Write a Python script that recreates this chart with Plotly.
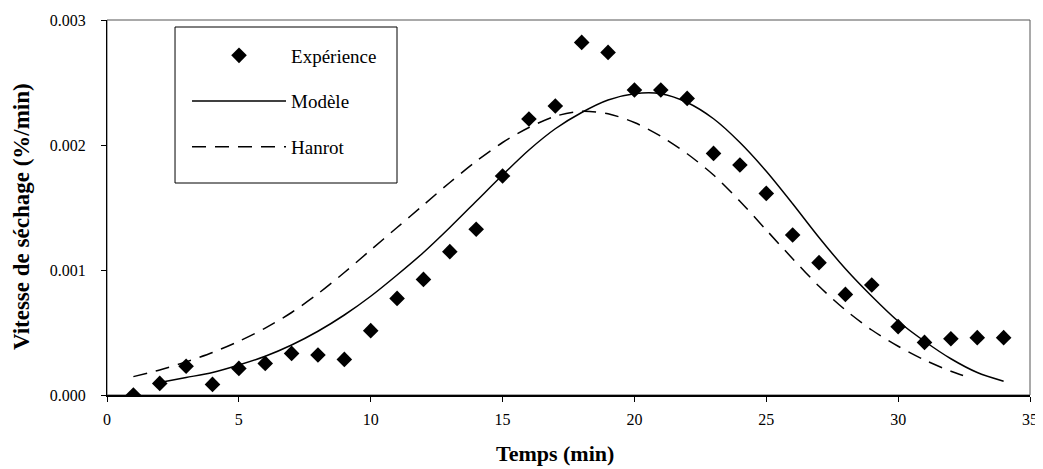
import plotly.graph_objects as go

# ---- data ----
temps_exp = list(range(1, 35))
experience = [0.0, 0.000093, 0.00023, 0.000085, 0.000213, 0.000253, 0.000333, 0.00032,
              0.000285, 0.000515, 0.000773, 0.000925, 0.001147, 0.001326, 0.001752,
              0.002208, 0.002312, 0.002821, 0.002741, 0.00244, 0.00244, 0.002373,
              0.001933, 0.00184, 0.001613, 0.00128, 0.001059, 0.000805, 0.00088,
              0.000547, 0.000421, 0.00045, 0.000459, 0.000459]

temps_modele = list(range(2, 35))
modele = [0.0001, 0.00014, 0.00018, 0.00024, 0.00031, 0.0004, 0.00051, 0.00064,
          0.00079, 0.00096, 0.00114, 0.00134, 0.00155, 0.00176, 0.00196, 0.00213,
          0.00226, 0.00236, 0.00241, 0.00241, 0.00234, 0.00221, 0.00202, 0.00179,
          0.00153, 0.00126, 0.00101, 0.00079, 0.00059, 0.00043, 0.00029,
          0.00018, 0.00011]

temps_hanrot = list(range(1, 33)) + [32.7]
hanrot = [0.000147, 0.0002, 0.000265, 0.00034, 0.00043, 0.000535, 0.00066, 0.00081,
          0.00098, 0.00116, 0.00134, 0.00152, 0.0017, 0.00187, 0.00202, 0.00214,
          0.00223, 0.00227, 0.00225, 0.00218, 0.00207, 0.00193, 0.00176, 0.00155,
          0.00132, 0.00109, 0.00087, 0.00068, 0.00052, 0.00039, 0.00028,
          0.00019, 0.00014]

x_ticks = [0, 5, 10, 15, 20, 25, 30, 35]
y_ticks = [0.0, 0.001, 0.002, 0.003]
y_labels = ["0.000", "0.001", "0.002", "0.003"]

x_title = "Temps (min)"
y_title = "Vitesse de séchage (%/min)"

FONT = "Liberation Serif"

fig = go.Figure()
fig.add_trace(go.Scatter(
    x=temps_exp, y=experience, mode="markers", name="Expérience",
    marker=dict(symbol="diamond", size=12, color="black"),
    legendgroup="a"))
fig.add_trace(go.Scatter(
    x=temps_modele, y=modele, mode="lines", name="Modèle",
    line=dict(color="black", width=1.5, shape="spline", smoothing=0.8),
    legendgroup="b"))
fig.add_trace(go.Scatter(
    x=temps_hanrot, y=hanrot, mode="lines", name="Hanrot",
    line=dict(color="black", width=1.5, dash="14px,9px", shape="spline", smoothing=0.8),
    legendgroup="c"))

# the page body has an 8px margin, so the figure is sized/offset to compensate
fig.update_layout(
    width=1035, height=461,
    margin=dict(l=99, r=13, t=12, b=74),
    paper_bgcolor="white", plot_bgcolor="white",
    font=dict(family=FONT, color="black", size=16),
    showlegend=True,
    legend=dict(
        x=0.0867, y=0.956, xanchor="left", yanchor="top",
        borderwidth=0, bgcolor="rgba(0,0,0,0)",
        font=dict(family=FONT, size=19, color="black"),
        itemwidth=94, tracegroupgap=18, traceorder="grouped",
    ),
    xaxis=dict(
        range=[0, 35], tickvals=x_ticks, ticks="outside", ticklen=5,
        tickcolor="black", showline=True, linecolor="black", linewidth=2,
        showgrid=False, zeroline=False, automargin=False, ticklabelstandoff=4,
        ticklabeloverflow="allow",
        tickfont=dict(family=FONT, size=16),
    ),
    yaxis=dict(
        range=[0, 0.003], tickvals=y_ticks, ticktext=y_labels, ticks="outside",
        ticklen=5, tickcolor="black", showline=True, linecolor="black", linewidth=1,
        showgrid=False, zeroline=False, automargin=False, ticklabelstandoff=12,
        tickfont=dict(family=FONT, size=16),
    ),
    annotations=[
        dict(text="<b>" + x_title + "</b>", xref="paper", yref="paper",
             x=0.4854, y=-0.157, xanchor="center", yanchor="middle", showarrow=False,
             font=dict(family=FONT, size=22)),
        dict(text="<b>" + y_title + "</b>", xref="paper", yref="paper",
             x=-0.0932, y=0.477, xanchor="center", yanchor="middle", showarrow=False,
             textangle=-90, font=dict(family=FONT, size=23)),
    ],
    shapes=[
        dict(type="rect", xref="paper", yref="paper", x0=0, x1=1, y0=0, y1=1,
             line=dict(color="#555555", width=1), layer="below"),
        dict(type="rect", xref="paper", yref="paper", x0=0.0737, x1=0.3142,
             y0=0.5653, y1=0.9813, line=dict(color="black", width=1),
             fillcolor="white", layer="below"),
    ],
)

fig.write_html("out.html")
